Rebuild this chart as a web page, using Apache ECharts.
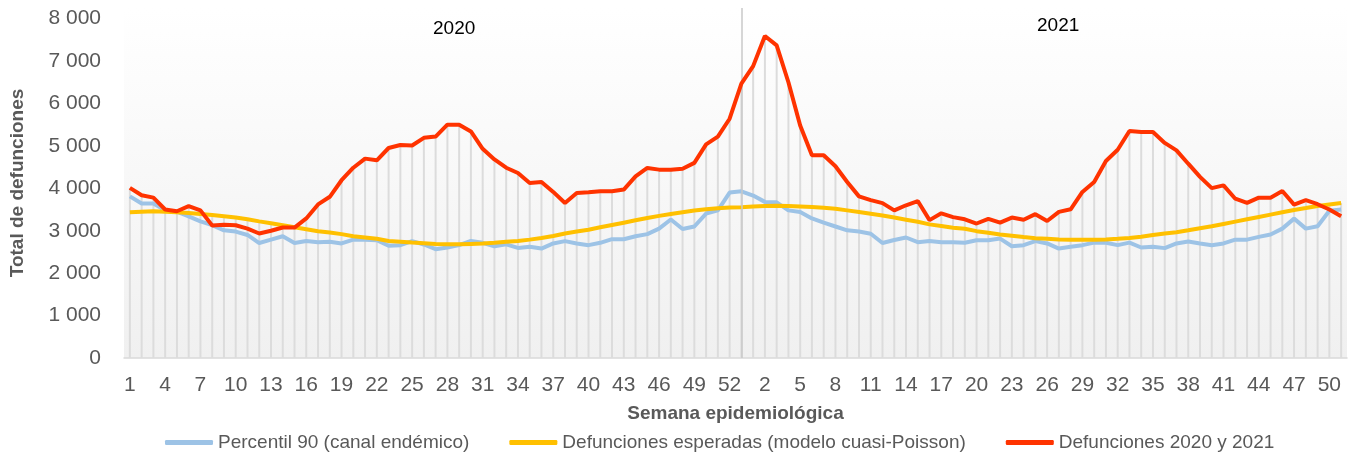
<!DOCTYPE html>
<html>
<head>
<meta charset="utf-8">
<script src="https://cdn.jsdelivr.net/npm/echarts@6/dist/echarts.min.js"></script>
<style>
  html, body { margin: 0; padding: 0; background: #fff; }
  #chart { width: 1358px; height: 453px; }
</style>
</head>
<body>
<div id="chart"></div>
<script>
// semanas epidemiologicas: 2020 tiene 53, 2021 llega hasta la 51
const weeks2020 = Array.from({length: 53}, (_, i) => String(i + 1));
const weeks2021 = Array.from({length: 51}, (_, i) => String(i + 1));
const categories = weeks2020.concat(weeks2021);

const percentil90 = [
  3810, 3640, 3640, 3480, 3450, 3340, 3220, 3130, 3010, 2980, 2900, 2710, 2790, 2870, 2710, 2760, 2730, 2740,
  2700, 2790, 2790, 2775, 2645, 2660, 2755, 2675, 2565, 2605, 2660, 2760, 2715, 2635, 2680, 2595, 2620, 2580,
  2700, 2755, 2700, 2660, 2715, 2800, 2800, 2870, 2920, 3050, 3265, 3040, 3100, 3405, 3480, 3900, 3930,
  3830, 3680, 3670, 3480, 3440, 3290, 3190, 3100, 3010, 2980, 2930, 2710, 2780, 2840, 2730, 2760, 2730, 2730,
  2715, 2775, 2775, 2815, 2635, 2660, 2755, 2700, 2580, 2620, 2660, 2720, 2715, 2660, 2720, 2605, 2620,
  2590, 2700, 2745, 2700, 2660, 2700, 2790, 2790, 2855, 2910, 3050, 3285, 3050, 3105, 3470, 3500
];

const esperadas = [
  3435, 3450, 3460, 3450, 3435, 3420, 3395, 3370, 3340, 3310, 3270, 3220, 3175, 3130, 3080, 3035, 2990, 2960,
  2920, 2870, 2840, 2810, 2760, 2740, 2720, 2705, 2690, 2680, 2680, 2690, 2700, 2715, 2740, 2760, 2790, 2830,
  2875, 2935, 2980, 3025, 3080, 3135, 3190, 3245, 3300, 3350, 3395, 3435, 3475, 3505, 3530, 3545, 3555,
  3570, 3580, 3590, 3580, 3570, 3560, 3540, 3520, 3480, 3440, 3400, 3360, 3310, 3260, 3210, 3150, 3110, 3070,
  3045, 2990, 2950, 2910, 2880, 2850, 2825, 2810, 2795, 2785, 2785, 2785, 2795, 2810, 2830, 2860, 2900,
  2935, 2965, 3010, 3060, 3105, 3160, 3215, 3270, 3325, 3380, 3435, 3490, 3535, 3585, 3620, 3655
];

const defunciones = [
  4010, 3835, 3780, 3500, 3460, 3580, 3480, 3125, 3140, 3130, 3050, 2935, 3000, 3075, 3075, 3290, 3620, 3800,
  4190, 4485, 4700, 4660, 4950, 5020, 5010, 5190, 5220, 5500, 5500, 5340, 4930, 4680, 4485, 4360, 4125, 4150,
  3915, 3655, 3890, 3905, 3930, 3930, 3970, 4280, 4480, 4440, 4440, 4460, 4600, 5035, 5220, 5640, 6465,
  6880, 7590, 7370, 6500, 5480, 4780, 4780, 4520, 4150, 3810, 3720, 3650, 3480, 3600, 3700, 3250, 3410, 3320,
  3270, 3170, 3280, 3190, 3310, 3260, 3390, 3230, 3445, 3505, 3915, 4150, 4645, 4910, 5350, 5325, 5325,
  5070, 4895, 4580, 4270, 4005, 4070, 3755, 3655, 3780, 3780, 3935, 3615, 3720, 3625, 3500, 3340
];

const yearLabels = ['2020', '2021'];
const yTicks = [0, 1000, 2000, 3000, 4000, 5000, 6000, 7000, 8000];

// lineas de caida (como en excel): desde el punto mas alto hasta el eje
const dropLines = categories.map((_, i) => Math.max(percentil90[i], esperadas[i], defunciones[i]));

const chart = echarts.init(document.getElementById('chart'));
const gray = '#595959';

chart.setOption({
  animation: false,
  title: [
    { text: yearLabels[0], left: 428, top: 14, textStyle: { fontFamily: 'Liberation Sans', fontSize: 19, fontWeight: 'normal', color: '#000' } },
    { text: yearLabels[1], left: 1032, top: 11, textStyle: { fontFamily: 'Liberation Sans', fontSize: 19, fontWeight: 'normal', color: '#000' } }
  ],
  legend: {
    data: ['Percentil 90 (canal endémico)', 'Defunciones esperadas (modelo cuasi-Poisson)', 'Defunciones 2020 y 2021'],
    left: 160,
    top: 428,
    icon: 'roundRect',
    itemWidth: 48,
    itemHeight: 5,
    itemGap: 40,
    textStyle: { fontFamily: 'Liberation Sans', fontSize: 19, color: gray }
  },
  grid: {
    left: 120, right: 11, top: 8, bottom: 95,
    show: true,
    borderWidth: 0,
    backgroundColor: new echarts.graphic.LinearGradient(0, 0, 0, 1, [
      { offset: 0, color: '#ffffff' },
      { offset: 1, color: '#f0f0f0' }
    ])
  },
  xAxis: {
    type: 'category',
    data: categories,
    boundaryGap: true,
    name: 'Semana epidemiológica',
    nameLocation: 'middle',
    nameGap: 46,
    nameTextStyle: { fontFamily: 'Liberation Sans', fontSize: 19, fontWeight: 'bold', color: gray },
    axisLine: { lineStyle: { color: '#d9d9d9', width: 1.5 } },
    axisTick: { show: false },
    axisLabel: { interval: 2, margin: 17, fontFamily: 'Liberation Sans', fontSize: 21, color: gray },
    splitLine: { show: false }
  },
  yAxis: {
    type: 'value',
    min: 0,
    max: 8250,
    interval: 1000,
    name: 'Total de defunciones',
    nameLocation: 'middle',
    nameGap: 97,
    nameTextStyle: { fontFamily: 'Liberation Sans', fontSize: 19, fontWeight: 'bold', color: gray },
    axisLine: { show: false },
    axisTick: { show: false },
    splitLine: { show: false },
    axisLabel: {
      margin: 23, fontFamily: 'Liberation Sans', fontSize: 21, color: gray,
      formatter: v => yTicks.includes(v) ? (v === 0 ? '0' : (v / 1000) + ' 000') : ''
    }
  },
  series: [
    {
      name: 'lineas',
      type: 'bar',
      data: dropLines,
      barWidth: 2,
      itemStyle: { color: '#dcdcdc' },
      silent: true,
      z: 1,
      markLine: {
        silent: true,
        symbol: 'none',
        label: { show: false },
        lineStyle: { color: '#c8c8c8', width: 1.5, type: 'solid' },
        data: [[{ coord: [52, 0] }, { coord: [52, 8250] }]]
      }
    },
    {
      name: 'Percentil 90 (canal endémico)',
      type: 'line',
      data: percentil90,
      symbol: 'none',
      lineStyle: { color: '#9dc3e6', width: 4 },
      itemStyle: { color: '#9dc3e6' },
      z: 3
    },
    {
      name: 'Defunciones esperadas (modelo cuasi-Poisson)',
      type: 'line',
      data: esperadas,
      symbol: 'none',
      lineStyle: { color: '#ffc000', width: 4 },
      itemStyle: { color: '#ffc000' },
      z: 4
    },
    {
      name: 'Defunciones 2020 y 2021',
      type: 'line',
      data: defunciones,
      symbol: 'none',
      lineStyle: { color: '#ff3300', width: 4 },
      itemStyle: { color: '#ff3300' },
      z: 5
    }
  ]
});
</script>
</body>
</html>
